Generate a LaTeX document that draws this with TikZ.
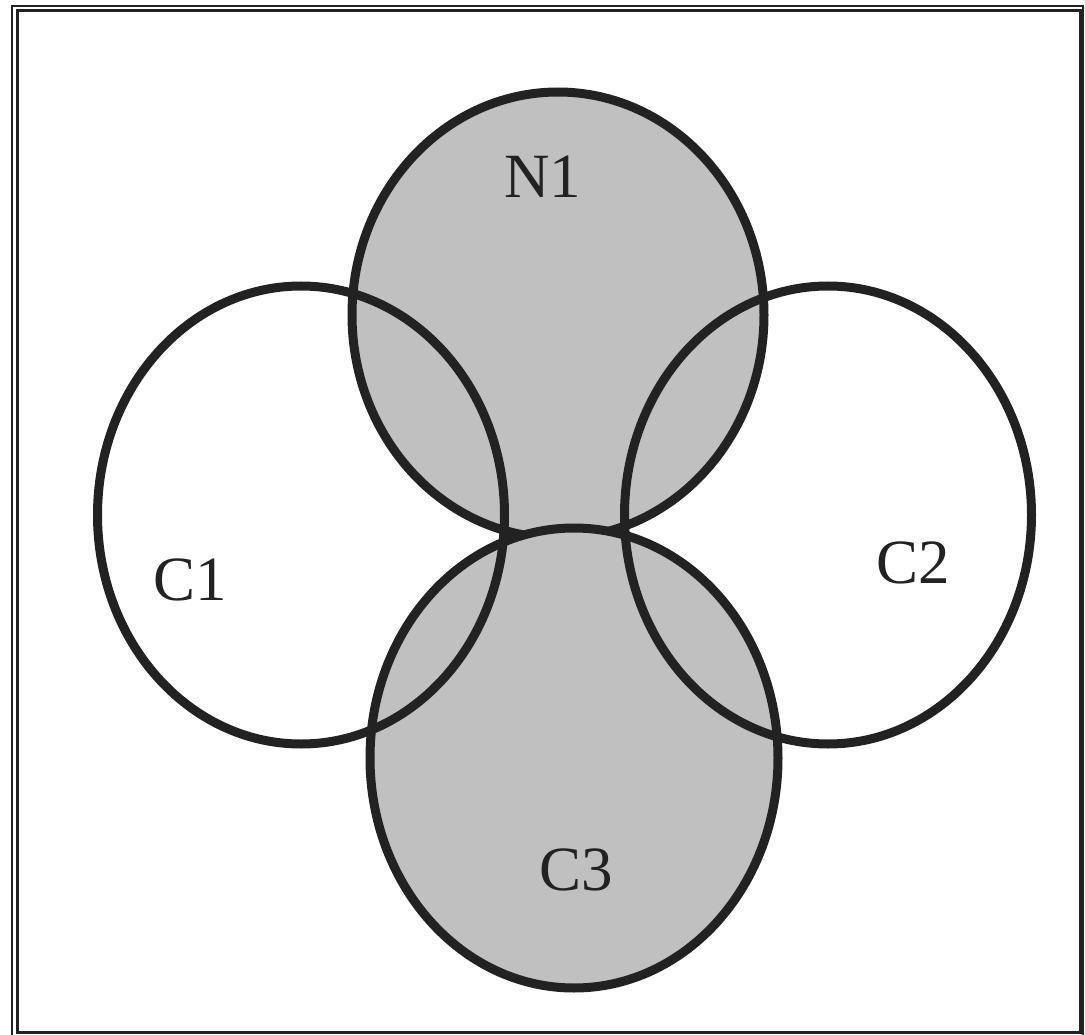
\documentclass[tikz,border=0pt]{standalone}
\usepackage{fontspec}
\setmainfont{Liberation Serif}
\usepackage{xcolor}
\usepackage{tikz}
\usetikzlibrary{shapes.geometric}
\definecolor{shade}{HTML}{C0C0C0}
\definecolor{ink}{HTML}{222222}

\begin{document}
\begin{tikzpicture}[
  x=1pt, y=-1pt,
  blob/.style={
    draw=ink,
    ellipse,
    line width=9pt,
    inner sep=0pt,
    outer sep=0pt
  },
  tag/.style={
    inner sep=0pt,
    text=ink,
    font=\fontsize{63}{63}\selectfont
  }
]
\useasboundingbox (0,0) rectangle (1085,1035);

% frame
\draw[ink, line width=2.5pt] (12,1035) -- (12,6) -- (1083,6) -- (1083,1035);
\draw[ink, line width=3pt] (17,11) rectangle (1080,1032);

% grey sets first, then the open ones on top
\node (n1) [blob, fill=shade, minimum width=412pt, minimum height=446pt] at (558,315) {};
\node (c3) [blob, fill=shade, minimum width=408pt, minimum height=460pt] at (574,758) {};
\node (c1) [blob, minimum width=407pt, minimum height=458pt] at (301,515) {};
\node (c2) [blob, minimum width=407pt, minimum height=458pt] at (828,515) {};

\node (ln1) [tag] at (543,177) {N1};
\node (lc1) [tag] at (190,580) {C1};
\node (lc2) [tag] at (913,563) {C2};
\node (lc3) [tag] at (576,870) {C3};

\end{tikzpicture}
\end{document}
